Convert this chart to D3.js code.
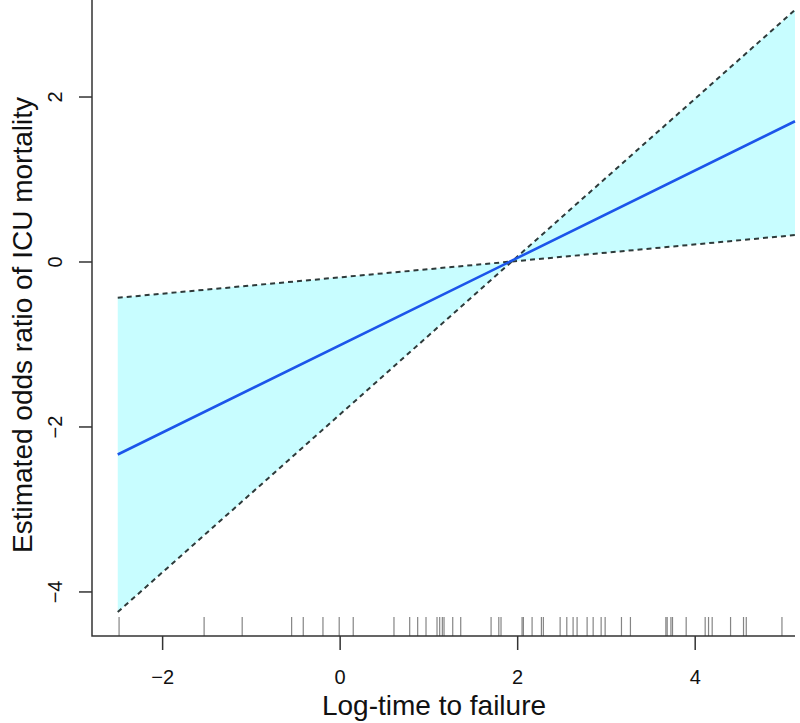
<!DOCTYPE html>
<html>
<head>
<meta charset="utf-8">
<script src="https://cdn.jsdelivr.net/npm/d3@7"></script>
<style>
  body { margin: 0; background: #fff; }
  svg { display: block; font-family: "Liberation Sans", Arial, sans-serif; }
</style>
</head>
<body>
<div id="chart"></div>
<script>
// values
const xPoints = [-2.5, 1.94, 5.13];          // x where the lines are read
const fitValues = [-2.34, 0.01, 1.70];       // estimated log odds ratio
const bandA = [-0.44, 0.0, 0.32];            // shallow dashed bound
const bandB = [-4.25, 0.0, 3.05];            // steep dashed bound
const xTicks = [-2, 0, 2, 4];
const yTicks = [-4, -2, 0, 2];
const rugValues = [
  -2.485, -1.527, -1.098, -0.541, -0.410, -0.188, -0.005, 0.153, 0.612, 0.789,
  0.879, 0.973, 1.097, 1.127, 1.157, 1.176, 1.274, 1.364, 1.706, 1.793,
  1.818, 2.055, 2.070, 2.168, 2.273, 2.295, 2.484, 2.559, 2.630, 2.675,
  2.788, 2.856, 2.946, 2.991, 3.175, 3.276, 3.675, 3.690, 3.732, 3.750,
  3.904, 4.118, 4.156, 4.197, 4.404, 4.550, 4.581, 4.983
];

const width = 800, height = 723;
const margin = { left: 92, right: 795, top: 0, bottom: 636 };

const svg = d3.select('#chart').append('svg')
  .attr('width', width)
  .attr('height', height);

const x = d3.scaleLinear().domain([-2.79, 5.13]).range([margin.left, margin.right]);
const y = d3.scaleLinear().domain([-4.54, 3.17]).range([margin.bottom, margin.top]);

const rows = xPoints.map((v, i) => ({ x: v, fit: fitValues[i], a: bandA[i], b: bandB[i] }));

// shaded confidence band
svg.append('path')
  .datum(rows)
  .attr('fill', '#c8fdff')
  .attr('d', d3.area().x(d => x(d.x)).y0(d => y(d.a)).y1(d => y(d.b)));

// dashed bounds
['a', 'b'].forEach(k => {
  svg.append('path')
    .datum(rows)
    .attr('fill', 'none')
    .attr('stroke', '#2e3a3a')
    .attr('stroke-width', 2)
    .attr('stroke-dasharray', '5,4')
    .attr('d', d3.line().x(d => x(d.x)).y(d => y(d[k])));
});

// fitted line
svg.append('path')
  .datum(rows)
  .attr('fill', 'none')
  .attr('stroke', '#1c55ea')
  .attr('stroke-width', 2.6)
  .attr('d', d3.line().x(d => x(d.x)).y(d => y(d.fit)));

// rug
svg.append('g')
  .selectAll('line')
  .data(rugValues)
  .join('line')
    .attr('x1', d => x(d)).attr('x2', d => x(d))
    .attr('y1', margin.bottom - 19).attr('y2', margin.bottom)
    .attr('stroke', '#333')
    .attr('stroke-opacity', 0.6)
    .attr('stroke-width', 1.2);

// L-shaped frame
svg.append('path')
  .attr('fill', 'none')
  .attr('stroke', '#333')
  .attr('stroke-width', 1.5)
  .attr('d', `M${margin.left},${margin.top}V${margin.bottom}H${margin.right}`);

const minus = d => d < 0 ? '\u2212' + Math.abs(d) : d;

// x axis
const gx = svg.append('g')
  .attr('transform', `translate(0,${margin.bottom})`)
  .call(d3.axisBottom(x).tickValues(xTicks).tickSize(14).tickPadding(20).tickFormat(minus));
gx.select('.domain').remove();
gx.selectAll('line').attr('stroke', '#333').attr('stroke-width', 1.5);
gx.selectAll('text').attr('font-size', 20).attr('fill', '#111')
  .attr('font-family', '"Liberation Sans", Arial, sans-serif');

// y axis
const gy = svg.append('g')
  .attr('transform', `translate(${margin.left},0)`)
  .call(d3.axisLeft(y).tickValues(yTicks).tickSize(13).tickFormat(minus));
gy.select('.domain').remove();
gy.selectAll('line').attr('stroke', '#333').attr('stroke-width', 1.5);
gy.selectAll('text')
  .attr('font-size', 20).attr('fill', '#111')
  .attr('font-family', '"Liberation Sans", Arial, sans-serif')
  .attr('x', null)
  .attr('text-anchor', 'middle')
  .attr('transform', 'translate(-37,0) rotate(-90)')
  .attr('dy', '0.35em');

// titles
svg.append('text')
  .attr('x', 434).attr('y', 715)
  .attr('text-anchor', 'middle')
  .attr('font-size', 28).attr('fill', '#111')
  .text('Log-time to failure');

svg.append('text')
  .attr('transform', 'translate(32,325) rotate(-90)')
  .attr('text-anchor', 'middle')
  .attr('font-size', 28).attr('fill', '#111')
  .text('Estimated odds ratio of ICU mortality');
</script>
</body>
</html>
